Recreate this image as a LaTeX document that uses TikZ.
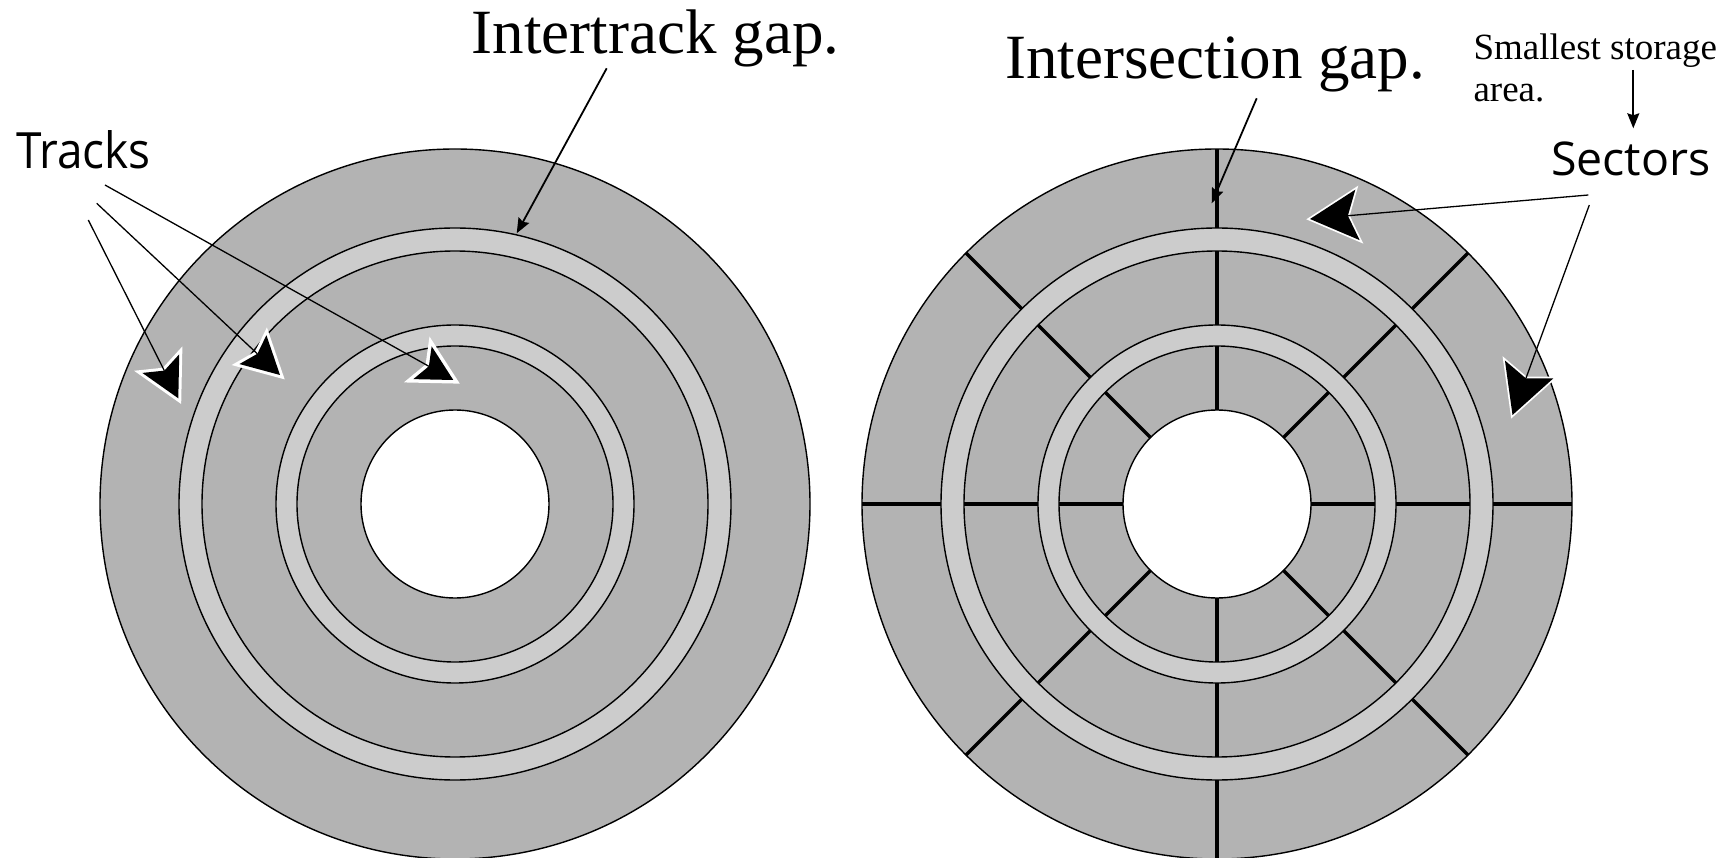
\documentclass[tikz,border=0pt]{standalone}
\usepackage{fontspec}
\usepackage{graphicx}
\setmainfont{Liberation Serif}
\newfontfamily\uisans{Open Sans}
\usetikzlibrary{calc,arrows.meta}

\definecolor{platter}{HTML}{B3B3B3}
\definecolor{gapring}{HTML}{CCCCCC}

\tikzset{
  edge/.style={black, line width=1.4pt},
  sectorline/.style={black, line width=3.4pt},
  leader/.style={black, line width=1.3pt},
  pointer/.style={black, line width=1.8pt, -{Stealth[length=15pt,width=12pt,inset=2pt]}},
  serifbig/.style={font=\fontsize{63}{70}\selectfont, inner sep=0pt, anchor=base west},
  serifsmall/.style={font=\fontsize{37}{42}\selectfont, inner sep=0pt, anchor=base west},
  sanslabel/.style={font=\uisans\fontsize{46.5}{56}\selectfont, inner sep=0pt, anchor=base west},
}

% big arrowhead with a white halo: #1 tip, #2 line start, #3 barb length,
% #4 notch depth, #5 halo width
\newcommand\haloarrow[5]{%
  \path[draw=white, line width=#5, line join=miter, miter limit=20]
    (#1) -- ($(#1)!#3!28:(#2)$) -- ($(#1)!#4!(#2)$) -- ($(#1)!#3!-28:(#2)$) -- cycle;
  \draw[leader, shorten >=#4] (#2) -- (#1);
  \fill[black]
    (#1) -- ($(#1)!#3!28:(#2)$) -- ($(#1)!#4!(#2)$) -- ($(#1)!#3!-28:(#2)$) -- cycle;}

% one platter: grey surface, two light intertrack rings and the spindle hole
\newcommand\platterfill[1]{%
  \fill[platter] (#1) circle[radius=355];
  \fill[gapring, even odd rule] (#1) circle[radius=276] (#1) circle[radius=253];
  \fill[gapring, even odd rule] (#1) circle[radius=179] (#1) circle[radius=158];
  \fill[white] (#1) circle[radius=94];}
\newcommand\platteredges[1]{%
  \foreach \r in {355,276,253,179,158,94} {\draw[edge] (#1) circle[radius=\r];}}

\begin{document}
\begin{tikzpicture}[x=1pt,y=-1pt]
\useasboundingbox (0,0) rectangle (1733,858);

\coordinate (left) at (455,504);
\coordinate (right) at (1217,504);

% left platter: tracks only
\platterfill{left}
\platteredges{left}

% right platter: tracks split into sectors
\platterfill{right}
\foreach \a in {0,45,...,315} {
  \draw[sectorline] ($(right)+(\a:94)$) -- ($(right)+(\a:158)$);
  \draw[sectorline] ($(right)+(\a:179)$) -- ($(right)+(\a:253)$);
  \draw[sectorline] ($(right)+(\a:276)$) -- ($(right)+(\a:355)$);
}
\platteredges{right}

% labels
\node[sanslabel] (tracks) at (16,169) {\scalebox{0.92}[1]{\fontsize{50}{56}\selectfont Tracks}};
\node[sanslabel] (sectors) at (1551,175.7) {Sectors};
\node[serifbig] (intertrack) at (471.7,53.3) {Intertrack gap.};
\node[serifbig] (intersection) at (1005,79) {Intersection gap.};
\node[serifsmall] (smallest) at (1473.3,59.3) {Smallest storage};
\node[serifsmall] (smallest2) at (1473.3,101.7) {area.};

% leader end points
\coordinate (tr1) at (88.3,220);
\coordinate (tr2) at (96.7,203.3);
\coordinate (tr3) at (105,185);
\coordinate (trA) at (178.3,398.3);
\coordinate (trB) at (280,375);
\coordinate (trC) at (453.3,380);
\coordinate (se1) at (1588.3,195);
\coordinate (se2) at (1589.3,205);
\coordinate (seA) at (1310,219);
\coordinate (seB) at (1512.5,415);

\haloarrow{trA}{tr1}{44pt}{31pt}{6pt}
\haloarrow{trB}{tr2}{42pt}{31pt}{6pt}
\haloarrow{trC}{tr3}{40pt}{28pt}{7pt}
\haloarrow{seA}{se1}{54pt}{38pt}{3.5pt}
\haloarrow{seB}{se2}{55pt}{39pt}{3.5pt}

% thin pointers
\coordinate (itS) at (606.7,68.3);
\coordinate (itE) at (516.7,233.3);
\coordinate (isS) at (1256.7,98.3);
\coordinate (isE) at (1211.7,203.3);
\coordinate (smS) at (1633.3,70);
\coordinate (smE) at (1633.3,128.3);
\draw[pointer] (itS) -- (itE);
\draw[pointer] (isS) -- (isE);
\draw[pointer] (smS) -- (smE);
\end{tikzpicture}
\end{document}
